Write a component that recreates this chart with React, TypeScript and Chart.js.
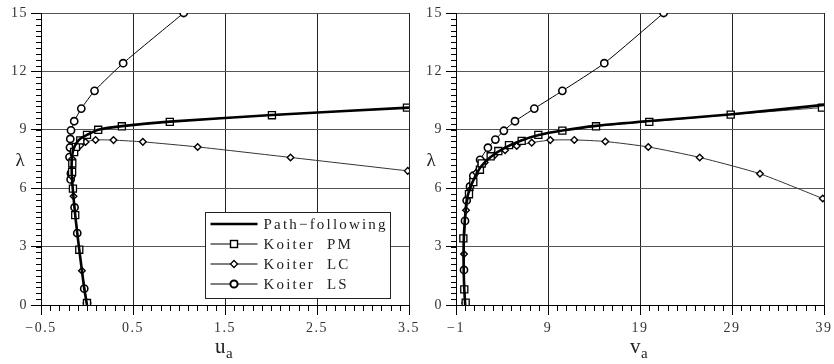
import React, { useEffect, useRef } from 'react';
import { Chart, registerables } from 'chart.js';
Chart.register(...registerables);

// ---------- axis ticks ----------
const lambdaTicks = [0, 3, 6, 9, 12, 15];
const uTicks = [-0.5, 0.5, 1.5, 2.5, 3.5];
const vTicks = [-1, 9, 19, 29, 39];

// ---------- left panel: u_a vs lambda ----------
const pathU = [0, -0.03, -0.055, -0.084, -0.106, -0.128, -0.142, -0.155, -0.163, -0.167, -0.165, -0.155, -0.135, -0.105, -0.07, 0.0, 0.122, 0.379, 0.9, 2.01, 3.5];
const pathUL = [0, 0.84, 1.76, 2.84, 3.69, 4.62, 5.3, 6.0, 6.5, 7.0, 7.5, 7.85, 8.15, 8.38, 8.55, 8.74, 9.0, 9.19, 9.42, 9.76, 10.14];

const pmU = [0.0, -0.084, -0.128, -0.153, -0.162, -0.16, -0.14, -0.12, -0.073, 0.0, 0.122, 0.379, 0.9, 2.01, 3.478];
const pmUL = [0.1, 2.84, 4.62, 5.98, 6.84, 7.27, 7.86, 8.12, 8.46, 8.74, 9.0, 9.18, 9.41, 9.75, 10.14];

const lcU = [0.0, -0.055, -0.146, -0.165, -0.16, -0.12, -0.073, -0.016, 0.093, 0.288, 0.607, 1.203, 2.212, 3.486];
const lcUL = [0.1, 1.76, 5.59, 6.6, 7.5, 7.98, 8.2, 8.37, 8.48, 8.47, 8.38, 8.12, 7.58, 6.89];

const lsU = [0.0, -0.03, -0.106, -0.135, -0.178, -0.175, -0.19, -0.185, -0.182, -0.174, -0.139, -0.062, 0.082, 0.393, 1.051];
const lsUL = [0.1, 0.84, 3.69, 5.01, 6.45, 6.76, 7.6, 8.09, 8.53, 8.97, 9.44, 10.09, 11.0, 12.42, 15.0];

// ---------- right panel: v_a vs lambda ----------
const pathV = [0, -0.1, -0.17, -0.15, -0.05, 0.16, 0.45, 0.88, 1.7, 2.8, 4.2, 6.1, 8.0, 10.56, 14.2, 20, 29, 39];
const pathVL = [0, 0.8, 2.0, 3.4, 4.3, 5.37, 5.9, 6.4, 7.1, 7.62, 8.05, 8.45, 8.73, 8.96, 9.2, 9.45, 9.8, 10.28];

const pmV = [0.05, -0.1, -0.2, 0.41, 0.88, 1.6, 1.79, 2.77, 3.6, 4.76, 6.14, 7.95, 10.56, 14.22, 20.01, 28.86, 38.78];
const pmVL = [0.12, 0.8, 3.42, 5.69, 6.31, 6.95, 7.27, 7.64, 7.91, 8.21, 8.43, 8.74, 8.96, 9.18, 9.41, 9.78, 10.14];

const lcV = [0, -0.13, 0.09, 0.5, 1.2, 2.12, 3.2, 4.33, 5.6, 7.23, 9.25, 11.86, 15.23, 19.9, 25.49, 32.04, 38.86];
const lcVL = [0.1, 2.62, 4.87, 5.9, 6.8, 7.32, 7.7, 7.95, 8.17, 8.34, 8.47, 8.48, 8.4, 8.12, 7.58, 6.74, 5.47];

const lsV = [-0.13, -0.02, 0.16, 0.52, 0.88, 1.62, 2.47, 3.28, 4.2, 5.41, 7.51, 10.56, 15.12, 21.57];
const lsVL = [1.8, 4.32, 5.37, 6.09, 6.64, 7.46, 8.08, 8.5, 8.95, 9.44, 10.09, 11.0, 12.42, 15.0];

const legendLabels = ['Path\u2212following', 'Koiter  PM', 'Koiter  LC', 'Koiter  LS'];

const SERIF = '"Liberation Serif", "DejaVu Serif", serif';

const pts = (xs: number[], ys: number[]) => xs.map((x, i) => ({ x, y: ys[i] }));
const fmt = (v: number) => (v < 0 ? '\u2212' + String(Math.abs(v)) : String(v));

function makeDatasets(px: number[], py: number[], mx: number[], my: number[], cx: number[], cy: number[], sx: number[], sy: number[]) {
  return [
    {
      label: legendLabels[0], data: pts(px, py), showLine: true, borderColor: '#000', borderWidth: 2.6,
      pointRadius: 0, tension: 0.2, order: 1,
    },
    {
      label: legendLabels[1], data: pts(mx, my), showLine: true, borderColor: '#444', borderWidth: 1,
      pointStyle: 'rect', pointRadius: 5, pointBorderWidth: 1.3, pointBorderColor: '#000', pointBackgroundColor: '#fff',
      tension: 0.2, order: 2,
    },
    {
      label: legendLabels[2], data: pts(cx, cy), showLine: true, borderColor: '#333', borderWidth: 1,
      pointStyle: 'rectRot', pointRadius: 3.3, pointBorderWidth: 1.4, pointBorderColor: '#000', pointBackgroundColor: '#fff',
      tension: 0.2, order: 3,
    },
    {
      label: legendLabels[3], data: pts(sx, sy), showLine: true, borderColor: '#000', borderWidth: 1,
      pointStyle: 'circle', pointRadius: 3.6, pointBorderWidth: 1.6, pointBorderColor: '#000', pointBackgroundColor: '#fff',
      tension: 0.2, order: 4,
    },
  ];
}

const spacing = {
  id: 'spacing',
  beforeDraw(chart: any) {
    (chart.ctx as any).letterSpacing = '1.5px';
  },
  beforeDatasetsDraw(chart: any) {
    (chart.ctx as any).letterSpacing = '0px';
  },
};

const minorTicks = {
  id: 'minorTicks',
  afterDraw(chart: any, _a: any, opts: any) {
    const ctx = chart.ctx;
    const xs = chart.scales.x;
    const ys = chart.scales.y;
    const area = chart.chartArea;
    ctx.save();
    ctx.strokeStyle = '#000';
    ctx.lineWidth = 1;
    const nx = Math.round((xs.max - xs.min) / opts.xStep);
    for (let i = 0; i <= nx; i++) {
      const px = Math.round(xs.getPixelForValue(xs.min + i * opts.xStep)) + 0.5;
      ctx.beginPath();
      ctx.moveTo(px, area.bottom);
      ctx.lineTo(px, area.bottom + 6);
      ctx.stroke();
    }
    const ny = Math.round((ys.max - ys.min) / opts.yStep);
    for (let i = 0; i <= ny; i++) {
      const py = Math.round(ys.getPixelForValue(ys.min + i * opts.yStep)) + 0.5;
      ctx.beginPath();
      ctx.moveTo(area.left, py);
      ctx.lineTo(area.left - 5, py);
      ctx.stroke();
    }
    ctx.restore();
  },
};

const titles = {
  id: 'titles',
  afterDraw(chart: any, _a: any, opts: any) {
    const ctx = chart.ctx;
    const area = chart.chartArea;
    ctx.save();
    (ctx as any).letterSpacing = '0px';
    ctx.fillStyle = '#222';
    ctx.textBaseline = 'alphabetic';
    ctx.textAlign = 'left';
    const cx = (area.left + area.right) / 2;
    ctx.font = '21px ' + SERIF;
    ctx.fillText(opts.main, cx - 10, 353);
    ctx.font = '15px ' + SERIF;
    ctx.fillText(opts.sub, cx + 1, 358);
    ctx.font = '19px ' + SERIF;
    ctx.textAlign = 'center';
    ctx.fillText('\u03bb', area.left - opts.lambdaOffset, 166);
    ctx.restore();
  },
};

const boxLegend = {
  id: 'boxLegend',
  afterDraw(chart: any, _a: any, opts: any) {
    if (!opts.show) return;
    const ctx = chart.ctx;
    const area = chart.chartArea;
    const left = area.left + 164.5;
    const right = area.right - 18.5;
    const top = 212.5;
    const bottom = area.bottom - 6.5;
    ctx.save();
    (ctx as any).letterSpacing = '0px';
    ctx.fillStyle = '#fff';
    ctx.fillRect(left, top, right - left, bottom - top);
    ctx.strokeStyle = '#222';
    ctx.lineWidth = 1;
    ctx.strokeRect(left, top, right - left, bottom - top);
    const rows = [224, 244, 264, 284];
    const x0 = left + 5, x1 = left + 52, mx = left + 28.5;
    chart.data.datasets.forEach((ds: any, i: number) => {
      const y = rows[i];
      (ctx as any).letterSpacing = '0px';
      ctx.beginPath();
      ctx.strokeStyle = i === 0 ? '#000' : '#555';
      ctx.lineWidth = i === 0 ? 2.6 : 1.3;
      ctx.moveTo(x0, y);
      ctx.lineTo(x1, y);
      ctx.stroke();
      ctx.fillStyle = '#fff';
      ctx.strokeStyle = '#000';
      if (i === 1) {
        ctx.lineWidth = 1.4;
        ctx.fillRect(mx - 3.5, y - 3.5, 7, 7);
        ctx.strokeRect(mx - 3.5, y - 3.5, 7, 7);
      } else if (i === 2) {
        ctx.lineWidth = 1.3;
        ctx.beginPath();
        ctx.moveTo(mx, y - 3.5); ctx.lineTo(mx + 3.5, y); ctx.lineTo(mx, y + 3.5); ctx.lineTo(mx - 3.5, y); ctx.closePath();
        ctx.fill(); ctx.stroke();
      } else if (i === 3) {
        ctx.lineWidth = 2;
        ctx.beginPath();
        ctx.arc(mx, y, 3.6, 0, Math.PI * 2);
        ctx.fill(); ctx.stroke();
      }
      ctx.fillStyle = '#222';
      ctx.font = '15px ' + SERIF;
      (ctx as any).letterSpacing = '2.2px';
      ctx.textBaseline = 'middle';
      ctx.textAlign = 'left';
      ctx.fillText(ds.label, left + 58, y + 1);
    });
    ctx.restore();
  },
};

type PanelProps = {
  datasets: any[];
  xMin: number; xMax: number; xTicks: number[]; xMinor: number;
  yWidth: number; padRight: number; left: number; width: number;
  main: string; sub: string; lambdaOffset: number; legend: boolean;
};

function Panel(p: PanelProps) {
  const ref = useRef<HTMLCanvasElement>(null);
  useEffect(() => {
    const tickFont = { family: SERIF, size: 14 };
    const chart = new Chart(ref.current as HTMLCanvasElement, {
      type: 'scatter',
      data: { datasets: p.datasets },
      plugins: [spacing, minorTicks, titles, boxLegend],
      options: {
        animation: false,
        responsive: false,
        devicePixelRatio: 1,
        layout: { padding: { left: 0, right: p.padRight, top: 13, bottom: 0 } },
        plugins: {
          legend: { display: false },
          tooltip: { enabled: false },
          minorTicks: { xStep: p.xMinor, yStep: 0.3 },
          titles: { main: p.main, sub: p.sub, lambdaOffset: p.lambdaOffset },
          boxLegend: { show: p.legend },
        } as any,
        scales: {
          x: {
            type: 'linear', min: p.xMin, max: p.xMax,
            afterBuildTicks: (s: any) => { s.ticks = p.xTicks.map((v) => ({ value: v })); },
            afterFit: (s: any) => { s.height = 59; s.paddingLeft = 0; s.paddingRight = 0; },
            ticks: { font: tickFont, color: '#333', padding: 5, maxRotation: 0, autoSkip: false, callback: (v: any) => fmt(Number(v)) },
            grid: { color: '#222', lineWidth: 1, tickLength: 10, tickColor: '#000' },
            border: { color: '#000', width: 1 },
          },
          y: {
            type: 'linear', min: 0, max: 15,
            afterBuildTicks: (s: any) => { s.ticks = lambdaTicks.map((v) => ({ value: v })); },
            afterFit: (s: any) => { s.width = p.yWidth; s.paddingTop = 0; s.paddingBottom = 0; },
            ticks: { font: tickFont, color: '#333', padding: 3, autoSkip: false, callback: (v: any) => fmt(Number(v)) },
            grid: { color: '#555', lineWidth: 1, tickLength: 10, tickColor: '#000' },
            border: { color: '#000', width: 1 },
          },
        },
      } as any,
    });
    return () => chart.destroy();
  }, []);
  return (
    <canvas
      ref={ref}
      width={p.width}
      height={364}
      style={{ position: 'absolute', left: p.left, top: 0, width: p.width, height: 364 }}
    />
  );
}

export default function App() {
  const leftSets = makeDatasets(pathU, pathUL, pmU, pmUL, lcU, lcUL, lsU, lsUL);
  const rightSets = makeDatasets(pathV, pathVL, pmV, pmVL, lcV, lcVL, lsV, lsVL);
  return (
    <div style={{ position: 'absolute', left: 0, top: 0, width: 834, height: 364, background: '#fff', overflow: 'hidden' }}>
      <Panel datasets={leftSets} xMin={-0.5} xMax={3.5} xTicks={uTicks} xMinor={0.1}
        yWidth={41} padRight={21} left={0} width={430}
        main="u" sub="a" lambdaOffset={21} legend={true} />
      <Panel datasets={rightSets} xMin={-1} xMax={39} xTicks={vTicks} xMinor={1}
        yWidth={39} padRight={10} left={417} width={417}
        main="v" sub="a" lambdaOffset={25} legend={false} />
    </div>
  );
}
